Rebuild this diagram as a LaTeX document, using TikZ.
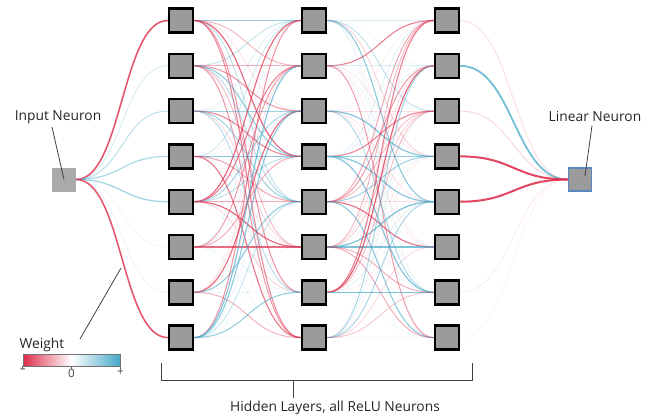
\documentclass[tikz,border=0pt]{standalone}
\usepackage{fontspec}
\setmainfont{Open Sans}
\usepackage{tikz}
\usetikzlibrary{backgrounds, calc}

\definecolor{negred}{RGB}{222,45,75}
\definecolor{posblue}{RGB}{70,168,200}
\definecolor{cellgray}{RGB}{155,155,155}
\definecolor{outblue}{RGB}{90,135,190}

% one weighted connection: from, to, weight in [-1,1]
\newcommand{\synapse}[3]{%
  \pgfmathsetmacro{\wmag}{abs(#3)}%
  \pgfmathsetmacro{\wop}{0.05+0.9*\wmag*(0.3+0.7*\wmag)}%
  \pgfmathsetmacro{\wlw}{0.5+\wscale*\wmag}%
  \ifdim #3pt<0pt \colorlet{wcol}{negred}\else\colorlet{wcol}{posblue}\fi
  \draw[wcol, line width=\wlw pt, draw opacity=\wop] (#1.east) .. controls +(\wgap,0) and +(-\wgap,0) .. (#2.west);%
}

\begin{document}
\begin{tikzpicture}[x=1pt, y=-1pt]

    \tikzstyle{hidnode} = [rectangle, minimum size=24pt, inner sep=0pt, draw=black, line width=2.4pt, fill=cellgray]
    \tikzstyle{innode} = [rectangle, minimum size=24pt, inner sep=0pt, fill=cellgray!85]
    \tikzstyle{outnode} = [rectangle, minimum size=23pt, inner sep=0pt, draw=outblue, line width=1.8pt, fill=cellgray]
    \tikzstyle{caption} = [font=\fontsize{13.8}{16}\selectfont, text=black!85]
    \tikzstyle{ticklbl} = [font=\fontsize{11.5}{13}\selectfont, text=black!75, inner sep=0.5pt]
    \tikzstyle{pointer} = [black!75, line width=0.8pt]

    \useasboundingbox (0,0) rectangle (653,417);

    \node (in) [innode] at (64,179.5) {};
    \foreach \l/\x in {1/181, 2/314, 3/447}
        \foreach \r in {1,...,8}
            \node (h\l\r) [hidnode] at (\x, {20.5+45.3*(\r-1)}) {};
    \node (out) [outnode] at (580,179.5) {};

    \begin{scope}[on background layer]
        % input -> first hidden layer
        \def\wgap{46}
        \def\wscale{1.2}
        \foreach \r/\w in {1/-0.9, 2/0.35, 3/0.5, 4/0.6, 5/0.65, 6/0.15, 7/0.2, 8/-0.9}
            \synapse{in}{h1\r}{\w};
        % hidden -> hidden
        \def\wgap{54}
        \def\wscale{0.8}
        \pgfmathsetseed{17}
        \foreach \l/\n in {1/2, 2/3}
            \foreach \i in {1,...,8}
                \foreach \j in {1,...,8} {
                    \pgfmathsetmacro{\w}{0.85*rand}
                    \synapse{h\l\i}{h\n\j}{\w}
                }
        % last hidden layer -> output
        \def\wgap{53}
        \def\wscale{1.6}
        \foreach \r/\w in {1/-0.25, 2/0.85, 3/-0.3, 4/-0.95, 5/-0.95, 7/-0.15, 8/-0.08}
            \synapse{h3\r}{out}{\w};
    \end{scope}

    % labels
    \node (inlabel) [caption] at (58,117) {Input Neuron};
    \draw [pointer] ([xshift=-6pt]inlabel.south) -- (in.center);

    \node (outlabel) [caption] at (595,117) {Linear Neuron};
    \coordinate (outtip) at (585,176);
    \draw [pointer] ([xshift=-3pt]outlabel.south) -- (outtip);

    % weight legend
    \node (wlabel) [caption, anchor=west] at (16,345) {Weight};
    \node (wbar) [minimum width=97pt, minimum height=12pt, inner sep=0pt, left color=negred, right color=posblue, middle color=white, draw=black!55, line width=0.6pt] at (71.5,360) {};
    \foreach \p/\t [count=\k] in {0/{--}, 0.5/0, 1/+} {
        \coordinate (wt\k) at ($(wbar.south west)!\p!(wbar.south east)$);
        \draw [black!60, line width=0.6pt] (wt\k) -- ++(0,3);
        \node (wn\k) [ticklbl, anchor=north] at ([yshift=-2pt]wt\k) {\t};
    }
    \coordinate (wfoot) at (80,339);
    \coordinate (wtip) at (121,268);
    \draw [pointer] (wfoot) -- (wtip);

    % bracket under the hidden layers
    \coordinate (bl) at ([xshift=-6pt,yshift=-12pt]h18.south west);
    \coordinate (br) at ([xshift=12pt,yshift=-12pt]h38.south east);
    \draw [pointer] (bl) -- ++(0,18) -| (br);
    \node (hidlabel) [caption] at (335,408) {Hidden Layers, all ReLU Neurons};
    \coordinate (brk) at (293,381);
    \draw [pointer] (brk) -- (brk |- hidlabel.north);

\end{tikzpicture}
\end{document}
